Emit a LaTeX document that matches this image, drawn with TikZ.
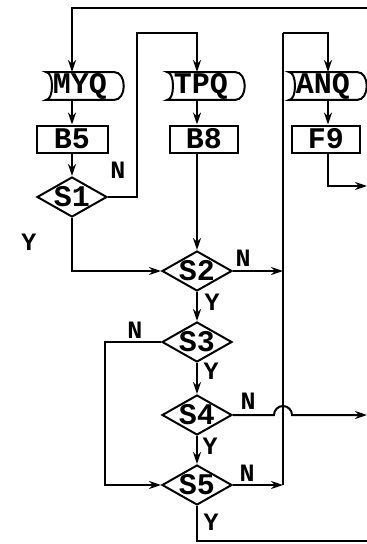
\documentclass[tikz,border=0pt]{standalone}
\usepackage{fontspec}
\setmainfont{Liberation Mono}
\usetikzlibrary{arrows.meta,shapes.geometric}
\begin{document}
\begin{tikzpicture}[x=1pt,y=-1pt,
  line width=2pt, line join=miter,
  arr/.style={-{Stealth[length=12pt,width=8pt]}},
  txt/.style={font=\fontsize{30}{32}\selectfont\bfseries},
  lbl/.style={font=\fontsize{25}{27}\selectfont\bfseries, inner sep=0pt},
  boxnode/.style={draw, rectangle, minimum height=27pt, inner sep=0pt, txt},
  dia/.style={draw, diamond, minimum width=70pt, minimum height=40pt, inner sep=0pt, aspect=1.75,
    label={[txt, inner sep=0pt]center:#1}},
  qnode/.style={minimum width=66pt, minimum height=25pt, inner sep=0pt, txt}]
\useasboundingbox (0,0) rectangle (367,544);

% queue-like input shapes
\node[qnode] (myq) at (80,86) {MYQ};
\node[qnode] (tpq) at (201,86) {TPQ};
\node[qnode] (anq) at (323,86) {ANQ};
\foreach \n in {myq,tpq,anq}{
  \draw (\n.north west) .. controls +(8pt,0) and +(8pt,0) .. (\n.south west)
        -- (\n.south east) .. controls +(13pt,0) and +(13pt,0) .. (\n.north east) -- cycle;
}

% boxes
\node[boxnode, minimum width=71pt] (b5) at (72,139) {B5};
\node[boxnode, minimum width=68pt] (b8) at (204,139) {B8};
\node[boxnode, minimum width=68pt] (f9) at (326,139) {F9};

% decisions
\node[dia=S1] (s1) at (72,197) {};
\node[dia=S2] (s2) at (197,271) {};
\node[dia=S3] (s3) at (197,342) {};
\node[dia=S4] (s4) at (197,415) {};
\node[dia=S5] (s5) at (197,485) {};

% helper coordinates
\coordinate (topR) at (367,8);
\coordinate (topL) at (72,8);
\coordinate (n1a) at (137,197);
\coordinate (n1b) at (137,33);
\coordinate (colB) at (197,33);
\coordinate (y1a) at (72,271);
\coordinate (merge) at (283,271);
\coordinate (mergeTop) at (283,33);
\coordinate (colC) at (328,33);
\coordinate (mergeBot) at (283,485);
\coordinate (f9a) at (328,186);
\coordinate (f9out) at (367,186);
\coordinate (n3a) at (105,342);
\coordinate (n3b) at (105,485);
\coordinate (hopL) at (274,415);
\coordinate (s4out) at (367,415);
\coordinate (y5a) at (197,541);
\coordinate (y5out) at (367,541);

% connectors
\draw[arr] (topR) -- (topL) -- (topL |- myq.north);
\draw[arr] (b5 |- myq.south) -- (b5.north);
\draw[arr] (b5.south) -- (s1.north);
\draw[arr] (s1.east) -- (n1a) -- (n1b) -- (colB) -- (colB |- tpq.north);
\draw[arr] (colB |- tpq.south) -- (colB |- b8.north);
\draw[arr] (colB |- b8.south) -- (s2.north);
\draw[arr] (s1.south) -- (y1a) -- (s2.west);
\draw[arr] (s2.east) -- (merge);
\draw (mergeBot) -- (mergeTop);
\draw[arr] (mergeTop) -- (colC) -- (colC |- anq.north);
\draw[arr] (colC |- anq.south) -- (colC |- f9.north);
\draw[arr] (colC |- f9.south) -- (f9a) -- (f9out);
\draw[arr] (s2.south) -- (s3.north);
\draw[arr] (s3.south) -- (s4.north);
\draw[arr] (s4.south) -- (s5.north);
\draw[arr] (s3.west) -- (n3a) -- (n3b) -- (s5.west);
\draw[arr] (s4.east) -- (hopL) arc[start angle=180, end angle=0, radius=9pt] -- (s4out);
\draw[arr] (s5.east) -- (mergeBot);
\draw (s5.south) -- (y5a) -- (y5out);

% labels
\node[lbl] (ln1) at (118,170) {N};
\node[lbl] (ly1) at (29,242) {Y};
\node[lbl] (ln2) at (243,258) {N};
\node[lbl] (ly2) at (212,302) {Y};
\node[lbl] (ln3) at (135,330) {N};
\node[lbl] (ly3) at (211,371) {Y};
\node[lbl] (ln4) at (248,401) {N};
\node[lbl] (ly4) at (210,446) {Y};
\node[lbl] (ln5) at (247,473) {N};
\node[lbl] (ly5) at (211,522) {Y};
\end{tikzpicture}
\end{document}
